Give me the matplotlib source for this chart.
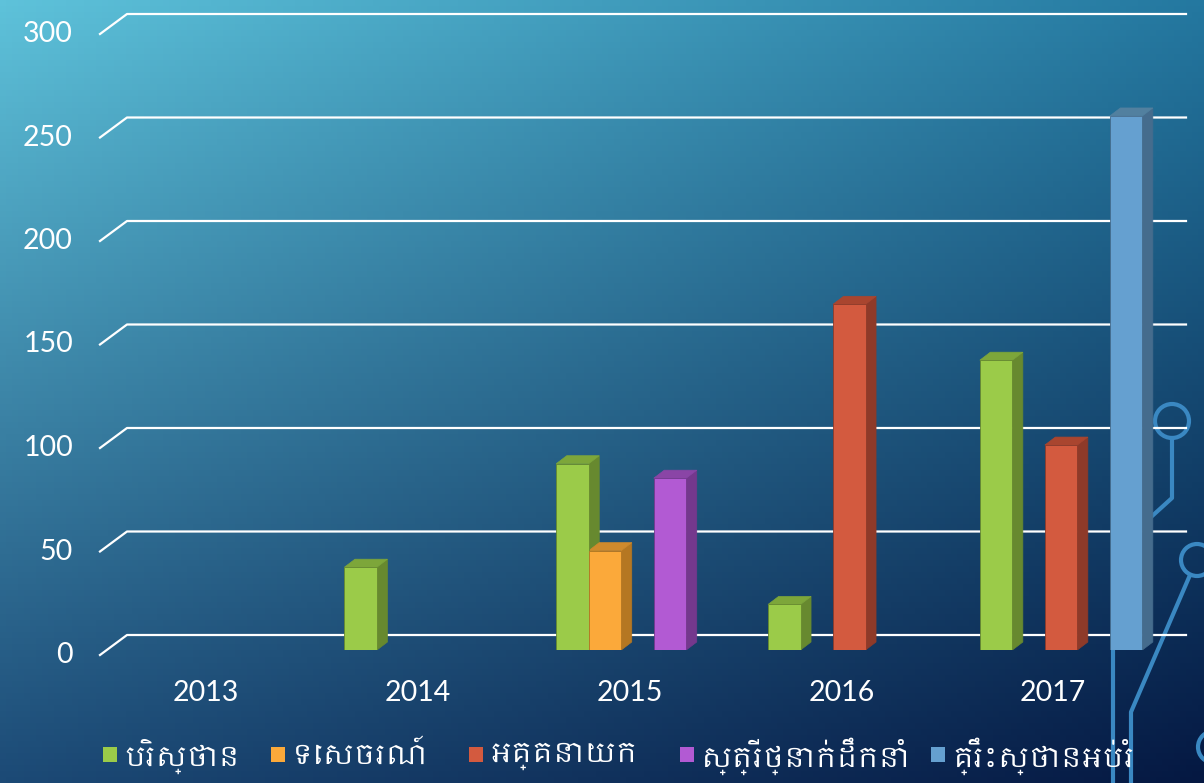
import numpy as np
import matplotlib
matplotlib.use('Agg')
import matplotlib.pyplot as plt
from matplotlib import font_manager
from matplotlib.ft2font import FT2Font
from matplotlib.patches import Polygon, Circle, Rectangle

# Données du graphique
years = ['2013', '2014', '2015', '2016', '2017']
series_names = ['បរិស្ថាន', 'ទេសចរណ៍', 'អគ្គនាយក', 'ស្ត្រីថ្នាក់ដឹកនាំ', 'គ្រឹះស្ថានអប់រំ']
val_env = [np.nan, 40, 90, 22, 140]
val_tour = [np.nan, np.nan, 48, np.nan, np.nan]
val_dir = [np.nan, np.nan, np.nan, 167, 99]
val_women = [np.nan, np.nan, 83, np.nan, np.nan]
val_edu = [np.nan, np.nan, np.nan, np.nan, 258]
y_ticks = [0, 50, 100, 150, 200, 250, 300]

# couleurs : face avant, côté, dessus
colors = [('#9BCB49', '#67892F', '#7DA63A'),
          ('#FBA93A', '#B57722', '#D08A2C'),
          ('#D35A3F', '#8E3A29', '#A9452F'),
          ('#B25AD3', '#74388D', '#8A45A6'),
          ('#65A0D0', '#456C8D', '#52809F')]


# Recherche d'une police avec les glyphes khmers
def find_khmer():
    for f in font_manager.fontManager.ttflist:
        if 'khmer' in f.name.lower():
            return f.name
    for f in font_manager.fontManager.ttflist:
        try:
            if 0x1794 in FT2Font(f.fname).get_charmap():
                return f.name
        except Exception:
            pass
    return None


kh = find_khmer()
kh_family = [kh, 'DejaVu Sans'] if kh else ['DejaVu Sans']
num_family = ['Lato', 'DejaVu Sans']

W, H = 1204, 783
fig = plt.figure(figsize=(W / 100, H / 100), dpi=100)

# Fond en dégradé
bg = fig.add_axes([0, 0, 1, 1])
bg.set_xlim(0, W)
bg.set_ylim(H, 0)
bg.axis('off')
tl = np.array([94, 194, 218]) / 255
tr = np.array([36, 120, 160]) / 255
bl = np.array([28, 74, 118]) / 255
br = np.array([5, 24, 66]) / 255
u = np.linspace(0, 1, 200)[None, :, None]
v = np.linspace(0, 1, 130)[:, None, None]
grad = (1 - u) * (1 - v) * tl + u * (1 - v) * tr + (1 - u) * v * bl + u * v * br
bg.imshow(grad, extent=(0, W, H, 0), aspect='auto', zorder=0)

# Décor "circuit" à droite
dc = '#3A88C2'
bg.add_patch(Circle((1172, 421), 17, fill=False, ec=dc, lw=3, zorder=1))
bg.plot([1172, 1172, 1140], [438, 498, 527], color=dc, lw=3, zorder=1)
bg.add_patch(Circle((1197, 560), 16, fill=False, ec=dc, lw=3, zorder=1))
bg.plot([1190, 1131, 1131], [575, 712, 790], color=dc, lw=3, zorder=1)
bg.plot([1113, 1113], [650, 790], color=dc, lw=3, zorder=1)
bg.add_patch(Circle((1214, 747), 16, fill=False, ec=dc, lw=3, zorder=1))

# Axe principal (plan avant des barres)
ax = fig.add_axes([108 / W, 133 / H, 1059 / W, 621 / H])
ax.patch.set_alpha(0)
ax.set_xlim(-0.5, 4.5)
ax.set_ylim(0, 300)
ax.axis('off')

px_x = 1059 / 5.0       # pixels par catégorie
px_y = 621 / 300.0      # pixels par unité
dxb, dyb = 19 / px_x, 15 / px_y     # plan arrière
dxf, dyf = -8 / px_x, -5 / px_y     # bord avant
ddx, ddy = 10.5 / px_x, 8 / px_y    # profondeur des barres

# Quadrillage en perspective
for t in y_ticks:
    ax.plot([-0.5 + dxf, -0.5 + dxb, 4.5 + dxb], [t + dyf, t + dyb, t + dyb],
            color='white', lw=1.6, zorder=2, clip_on=False)
    ax.text(-0.5 + dxf - 27 / px_x, t + dyf, str(t), color='white', fontsize=20.5,
            family=num_family, ha='right', va='center')

x = np.arange(len(years))
for i, yr in enumerate(years):
    ax.text(i + dxf, -21, yr, color='white', fontsize=20.5, family=num_family,
            ha='center', va='center')

# Barres 3D
w = 32.5 / px_x
all_vals = [val_env, val_tour, val_dir, val_women, val_edu]
for k, vals in enumerate(all_vals):
    front, side, top = colors[k]
    xs = x + (k - 2) * w
    ax.bar(xs, vals, width=w, color=front, edgecolor=side, linewidth=0.6, zorder=5)
    for xc, val in zip(xs, vals):
        if np.isnan(val):
            continue
        r = xc + w / 2
        l = xc - w / 2
        ax.add_patch(Polygon([(r, 0), (r + ddx, ddy), (r + ddx, val + ddy), (r, val)],
                             closed=True, fc=side, ec=side, lw=0.5, zorder=4))
        ax.add_patch(Polygon([(l, val), (l + ddx, val + ddy), (r + ddx, val + ddy), (r, val)],
                             closed=True, fc=top, ec=top, lw=0.5, zorder=4))

# Légende
leg_x = [103, 271, 469, 680, 931]
for k, name in enumerate(series_names):
    bg.add_patch(Rectangle((leg_x[k], 747), 14, 15, fc=colors[k][0], ec='none', zorder=3))
    bg.text(leg_x[k] + 21, 756, name, color='white', fontsize=20, family=kh_family,
            ha='left', va='center', zorder=3)

fig.savefig('out.png', dpi=100)
